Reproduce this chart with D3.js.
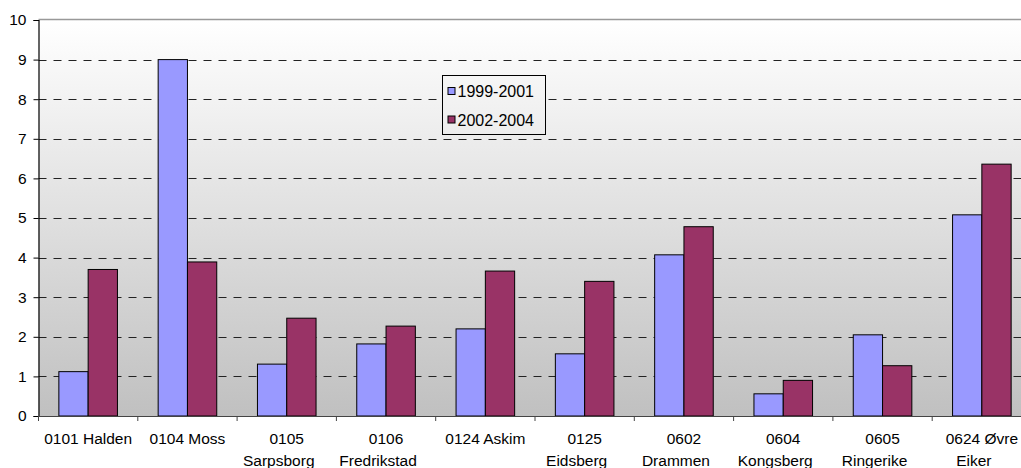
<!DOCTYPE html>
<html>
<head>
<meta charset="utf-8">
<script src="https://cdn.jsdelivr.net/npm/d3@7"></script>
<style>
  html, body { margin: 0; padding: 0; background: #ffffff; overflow: hidden; }
  svg { display: block; }
  text { font-family: "Liberation Sans", Arial, sans-serif; fill: #000; }
</style>
</head>
<body>
<svg id="chart" width="1021" height="468"></svg>
<script>
const categories = ["0101 Halden", "0104 Moss", "0105 Sarpsborg", "0106 Fredrikstad", "0124 Askim",
                    "0125 Eidsberg", "0602 Drammen", "0604 Kongsberg", "0605 Ringerike", "0624 Øvre Eiker"];
const seriesNames = ["1999-2001", "2002-2004"];
const values1999 = [1.12, 9.0, 1.31, 1.82, 2.2, 1.57, 4.07, 0.56, 2.05, 5.08];
const values2002 = [3.70, 3.89, 2.47, 2.27, 3.66, 3.40, 4.78, 0.90, 1.27, 6.36];
const yTicks = [0, 1, 2, 3, 4, 5, 6, 7, 8, 9, 10];
const colors = ["#9999ff", "#993366"];

(function () {
const svg = d3.select("#chart");
const pLeft = 38.5, pTop = 20, pBottom = 416;
const step = 99.3;
const pRight = pLeft + step * categories.length;

const x0 = d3.scaleBand().domain(categories).range([pLeft, pRight]).padding(0);
const x1 = d3.scaleBand().domain(seriesNames)
  .range([x0.bandwidth() * 0.205, x0.bandwidth() * 0.795]).padding(0);
const y = d3.scaleLinear().domain([0, 10]).range([pBottom, pTop]);

// background gradient
const defs = svg.append("defs");
const grad = defs.append("linearGradient").attr("id", "bg")
  .attr("gradientUnits", "userSpaceOnUse")
  .attr("x1", 0).attr("y1", pTop).attr("x2", 0).attr("y2", pBottom);
grad.append("stop").attr("offset", "0%").attr("stop-color", "#ffffff");
grad.append("stop").attr("offset", "100%").attr("stop-color", "#c0c0c0");

svg.append("rect").attr("x", pLeft).attr("y", pTop)
  .attr("width", pRight - pLeft).attr("height", pBottom - pTop)
  .attr("fill", "url(#bg)");

// top border
svg.append("line").attr("x1", pLeft).attr("x2", pRight)
  .attr("y1", pTop - 0.5).attr("y2", pTop - 0.5)
  .attr("stroke", "#999").attr("stroke-width", 1.5);

// gridlines
svg.append("g").selectAll("line").data(yTicks.filter(t => t > 0 && t < 10)).join("line")
  .attr("x1", pLeft).attr("x2", pRight)
  .attr("y1", d => Math.round(y(d)) + 0.5).attr("y2", d => Math.round(y(d)) + 0.5)
  .attr("stroke", "#222").attr("stroke-width", 1)
  .attr("stroke-dasharray", "8,7");

// bars
const data = categories.map((c, i) => ({ cat: c, vals: [values1999[i], values2002[i]] }));
const groups = svg.append("g").selectAll("g").data(data).join("g")
  .attr("transform", d => `translate(${x0(d.cat)},0)`);
groups.selectAll("rect").data(d => d.vals.map((v, j) => ({ s: seriesNames[j], v, j }))).join("rect")
  .attr("x", d => x1(d.s))
  .attr("width", x1.bandwidth())
  .attr("y", d => y(d.v))
  .attr("height", d => y(0) - y(d.v))
  .attr("fill", d => colors[d.j])
  .attr("stroke", "#000").attr("stroke-width", 1);

// y axis
const yAxis = d3.axisLeft(y).tickValues(yTicks).tickSize(5).tickPadding(7).tickFormat(d3.format("d"));
const gy = svg.append("g").attr("transform", `translate(${pLeft},0)`).call(yAxis);
gy.select(".domain").attr("stroke", "#000").attr("stroke-width", 1.2);
gy.selectAll(".tick line").attr("stroke", "#000");
gy.selectAll(".tick text").attr("font-size", "15.5px").attr("font-family", "Liberation Sans, Arial, sans-serif");

// x axis
const boundaries = d3.range(categories.length + 1);
svg.append("line").attr("x1", pLeft).attr("x2", pRight)
  .attr("y1", pBottom + 0.5).attr("y2", pBottom + 0.5).attr("stroke", "#444").attr("stroke-width", 1.2);
svg.append("g").selectAll("line").data(boundaries).join("line")
  .attr("x1", d => pLeft + d * x0.step()).attr("x2", d => pLeft + d * x0.step())
  .attr("y1", pBottom).attr("y2", pBottom + 5)
  .attr("stroke", "#444");

// x labels with wrapping
const maxW = 95;
const labelG = svg.append("g");
categories.forEach(c => {
  const cx = x0(c) + x0.bandwidth() / 2;
  const t = labelG.append("text").attr("x", cx).attr("y", 444)
    .attr("text-anchor", "middle").attr("font-size", "15.5px");
  const words = c.split(" ");
  let line = [];
  let lineNo = 0;
  let ts = t.append("tspan").attr("x", cx).attr("y", 444);
  words.forEach(w => {
    line.push(w);
    ts.text(line.join(" "));
    if (ts.node().getComputedTextLength() > maxW && line.length > 1) {
      line.pop();
      ts.text(line.join(" "));
      line = [w];
      lineNo++;
      ts = t.append("tspan").attr("x", cx - 8).attr("y", 444 + lineNo * 22).text(w);
    }
  });
});

// legend
const lg = svg.append("g");
const lx = 442.5, ly = 75.5, lw = 103, lh = 59;
lg.append("rect").attr("x", lx).attr("y", ly).attr("width", lw).attr("height", lh)
  .attr("fill", "url(#bg)").attr("stroke", "#000").attr("stroke-width", 1);
seriesNames.forEach((s, i) => {
  const cy = ly + 16 + i * 28.5;
  lg.append("rect").attr("x", lx + 5.5).attr("y", cy - 4).attr("width", 7).attr("height", 7)
    .attr("fill", colors[i]).attr("stroke", "#000").attr("stroke-width", 1);
  lg.append("text").attr("x", lx + 15).attr("y", cy + 5.5)
    .attr("font-size", "16px").text(s);
});
})();
</script>
</body>
</html>
